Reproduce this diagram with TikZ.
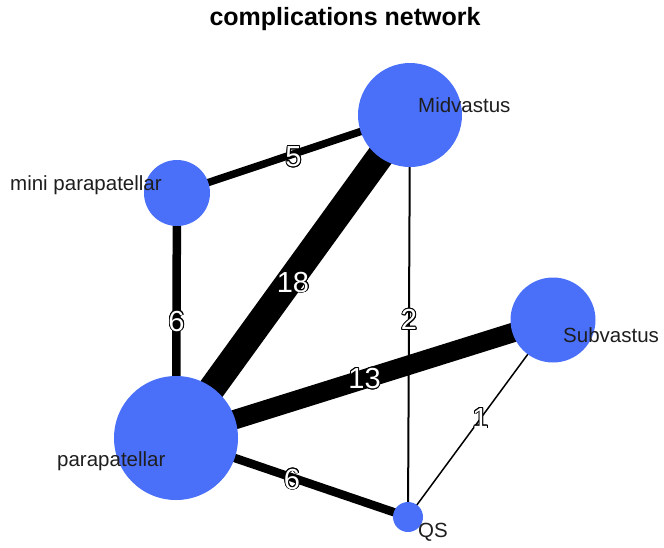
\documentclass[tikz,border=0pt]{standalone}
\usepackage{fontspec}
\setmainfont{Liberation Sans}
\usepackage{contour}
\contourlength{0.9pt}
\usetikzlibrary{backgrounds}
\definecolor{nodeblue}{RGB}{74,112,250}
\definecolor{labelgray}{RGB}{30,30,30}
\begin{document}
\begin{tikzpicture}[x=1pt,y=-1pt,
  vert/.style={circle,fill=nodeblue,draw=none,inner sep=0pt,minimum size=#1},
  vlabel/.style={anchor=base west,inner sep=0pt,text=labelgray,font=\fontsize{20.5}{20.5}\selectfont},
  elabel/.style={inner sep=0pt,text=white,font=\fontsize{29}{29}\selectfont},
  link/.style={draw=black,line width=#1,line cap=butt}]
\useasboundingbox (0,0) rectangle (664,547);
\node[font=\bfseries\fontsize{25}{25}\selectfont,anchor=center] (title) at (345,19) {complications network};
% vertices
\node[vert=104pt] (mid) at (410,115) {};
\node[vert=66pt] (mini) at (177,193) {};
\node[vert=85pt] (sub) at (553,320) {};
\node[vert=124pt] (para) at (176,438) {};
\node[vert=30pt] (qs) at (408,517) {};
% edges
\begin{scope}[on background layer]
\draw[link=7.5pt] (mini.center) -- node[elabel,yshift=-3pt]{\contour{black}{5}} (mid.center);
\draw[link=27pt] (para.center) -- node[elabel,yshift=-6pt]{\contour{black}{18}} (mid.center);
\draw[link=19.5pt] (para.center) -- node[elabel]{\contour{black}{13}} (sub.center);
\draw[link=2pt] (mid.center) -- node[elabel,yshift=-4pt]{\contour{black}{2}} (qs.center);
\draw[link=8.5pt] (mini.center) -- node[elabel,yshift=-6pt]{\contour{black}{6}} (para.center);
\draw[link=8.5pt] (para.center) -- node[elabel,yshift=-2pt]{\contour{black}{6}} (qs.center);
\draw[link=1.5pt] (sub.center) -- node[elabel]{\contour{black}{1}} (qs.center);
\end{scope}
% vertex labels
\node[vlabel] (lmid) at (418,112) {Midvastus};
\node[vlabel] (lmini) at (10,190) {mini parapatellar};
\node[vlabel] (lsub) at (563,342) {Subvastus};
\node[vlabel] (lpara) at (57,466) {parapatellar};
\node[vlabel] (lqs) at (418,537) {QS};
\end{tikzpicture}
\end{document}
